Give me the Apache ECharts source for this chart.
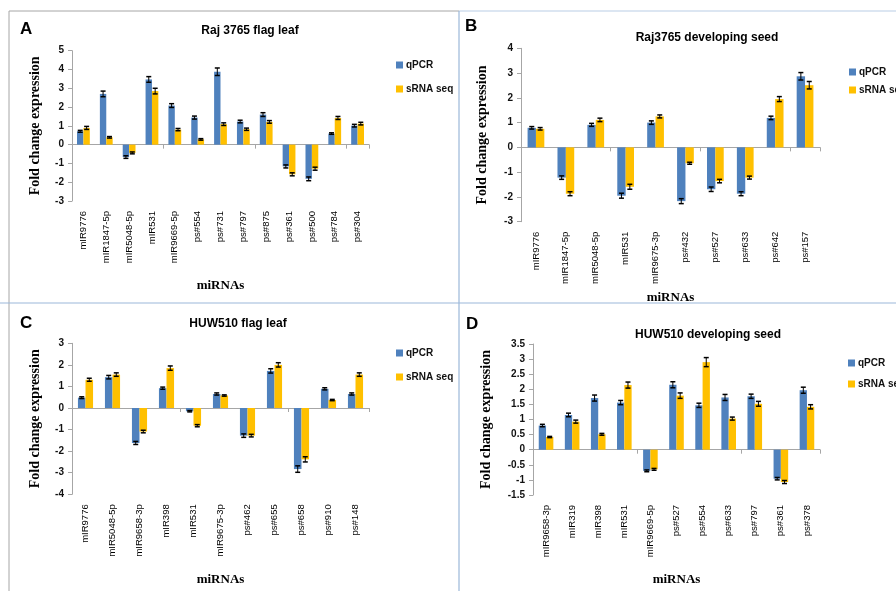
<!DOCTYPE html>
<html><head><meta charset="utf-8">
<script src="https://cdn.jsdelivr.net/npm/echarts@6/dist/echarts.min.js"></script>
<style>html,body{margin:0;padding:0;background:#fff}#c{width:896px;height:591px}</style>
</head><body><div id="c"></div>
<script>
// ---------- DATA ----------
var catsA = ['mIR9776','mIR1847-5p','mIR5048-5p','mIR531','mIR9669-5p','ps#554','ps#731','ps#797','ps#875','ps#361','ps#500','ps#784','ps#304'];
var qpcrA = [0.71,2.70,-0.66,3.47,2.08,1.44,3.88,1.23,1.60,-1.16,-1.82,0.59,1.01];
var srnaA = [0.89,0.39,-0.44,2.85,0.80,0.28,1.09,0.82,1.21,-1.58,-1.28,1.42,1.12];
var qErrA = [0.05,0.15,0.07,0.15,0.10,0.08,0.20,0.07,0.10,0.08,0.10,0.04,0.07];
var sErrA = [0.08,0.04,0.05,0.15,0.06,0.04,0.07,0.06,0.07,0.08,0.08,0.08,0.07];

var catsB = ['mIR9776','mIR1847-5p','mIR5048-5p','mIR531','mIR9675-3p','ps#432','ps#527','ps#633','ps#642','ps#157'];
var qpcrB = [0.79,-1.22,0.91,-1.95,1.00,-2.17,-1.69,-1.87,1.19,2.87];
var srnaB = [0.75,-1.87,1.11,-1.59,1.25,-0.64,-1.36,-1.22,1.95,2.51];
var qErrB = [0.05,0.07,0.06,0.10,0.07,0.10,0.09,0.08,0.07,0.15];
var sErrB = [0.05,0.08,0.07,0.10,0.06,0.04,0.07,0.06,0.10,0.15];

var catsC = ['mIR9776','mIR5048-5p','mIR9658-3p','mIR398','mIR531','mIR9675-3p','ps#462','ps#655','ps#658','ps#910','ps#148'];
var qpcrC = [0.48,1.43,-1.62,0.92,-0.15,0.65,-1.28,1.72,-2.83,0.89,0.65];
var srnaC = [1.31,1.55,-1.09,1.85,-0.82,0.58,-1.28,2.00,-2.38,0.37,1.55];
var qErrC = [0.04,0.08,0.07,0.05,0.03,0.05,0.08,0.10,0.15,0.05,0.05];
var sErrC = [0.07,0.08,0.06,0.10,0.05,0.03,0.06,0.10,0.12,0.03,0.08];

var catsD = ['mIR9658-3p','mIR319','mIR398','mIR531','mIR9669-5p','ps#527','ps#554','ps#633','ps#797','ps#361','ps#378'];
var qpcrD = [0.80,1.15,1.71,1.56,-0.70,2.15,1.47,1.73,1.77,-0.96,1.97];
var srnaD = [0.42,0.93,0.51,2.14,-0.65,1.79,2.90,1.03,1.52,-1.07,1.42];
var qErrD = [0.04,0.06,0.10,0.07,0.03,0.10,0.07,0.10,0.07,0.04,0.10];
var sErrD = [0.02,0.05,0.03,0.10,0.03,0.09,0.15,0.05,0.08,0.05,0.07];

var titles = ['Raj 3765 flag leaf','Raj3765 developing seed','HUW510 flag leaf','HUW510 developing seed'];
var letters = ['A','B','C','D'];
var yMins = [-3,-3,-4,-1.5], yMaxs = [5,4,3,3.5], yIntervals = [1,1,1,0.5];
var seriesNames = ['qPCR','sRNA seq'];

// ---------- LAYOUT ----------
var panels = [
  {cats:catsA,q:qpcrA,s:srnaA,qe:qErrA,se:sErrA, grid:{left:72,top:50.7,width:297,height:150.3}, yGap:30, xGap:78, title:[245,20], letter:[20,21], legend:[391,54,12]},
  {cats:catsB,q:qpcrB,s:srnaB,qe:qErrB,se:sErrB, grid:{left:521,top:48.3,width:299,height:173.4}, yGap:32, xGap:69, title:[702,27], letter:[465,18], legend:[844,61,6]},
  {cats:catsC,q:qpcrC,s:srnaC,qe:qErrC,se:sErrC, grid:{left:72,top:343.3,width:297,height:151}, yGap:30, xGap:79, title:[233,313], letter:[20,315], legend:[391,342,12]},
  {cats:catsD,q:qpcrD,s:srnaD,qe:qErrD,se:sErrD, grid:{left:533,top:344,width:287,height:151}, yGap:40, xGap:78, title:[703,324], letter:[466,316], legend:[843,352,9]}
];
var BAR = 0.28;
var colors = ['#4F81BD','#FFC000'];

function errRender(sign){
  return function(params, api){
    var i = api.value(0), v = api.value(1), e = api.value(2);
    var c = api.coord([i, v]);
    var band = api.size([1,0])[0];
    var x = c[0] + sign*band*BAR/2;
    var y1 = api.coord([i, v+e])[1], y2 = api.coord([i, v-e])[1];
    var cap = 2.5;
    return {type:'group', children:[
      {type:'line', shape:{x1:x,y1:y1,x2:x,y2:y2}, style:{stroke:'#000',lineWidth:1}},
      {type:'line', shape:{x1:x-cap,y1:y1,x2:x+cap,y2:y1}, style:{stroke:'#000',lineWidth:1.5}},
      {type:'line', shape:{x1:x-cap,y1:y2,x2:x+cap,y2:y2}, style:{stroke:'#000',lineWidth:1.5}}
    ]};
  };
}

var option = {animation:false, backgroundColor:'#fff', grid:[], xAxis:[], yAxis:[], series:[], title:[], legend:[], graphic:[]};

panels.forEach(function(p, k){
  option.grid.push(p.grid);
  option.xAxis.push({
    type:'category', gridIndex:k, data:p.cats, position:'bottom',
    axisLine:{show:false, onZero:false}, axisTick:{show:false},
    axisLabel:{rotate:90, margin:10, fontSize:9.5, color:'#000', fontFamily:'Liberation Sans'},
    name:'miRNAs', nameLocation:'middle', nameGap:p.xGap,
    nameTextStyle:{fontFamily:'Liberation Serif', fontWeight:'bold', fontSize:13, color:'#000'}
  });
  option.xAxis.push({
    type:'category', gridIndex:k, data:p.cats, position:'bottom',
    axisLine:{show:true, onZero:true, lineStyle:{color:'#A6A6A6', width:1}},
    axisTick:{show:true, length:4, lineStyle:{color:'#A6A6A6'}},
    axisLabel:{show:false}
  });
  option.yAxis.push({
    type:'value', gridIndex:k, min:yMins[k], max:yMaxs[k], interval:yIntervals[k],
    axisLine:{show:true, lineStyle:{color:'#A6A6A6'}},
    axisTick:{show:true, length:4, lineStyle:{color:'#A6A6A6'}},
    splitLine:{show:false},
    axisLabel:{fontSize:10, fontWeight:'bold', color:'#111', fontFamily:'Liberation Sans', margin:8},
    name:'Fold change expression', nameLocation:'middle', nameGap:p.yGap,
    nameTextStyle:{fontFamily:'Liberation Serif', fontWeight:'bold', fontSize:14, color:'#000'}
  });
  var vals = [p.q, p.s], errs = [p.qe, p.se];
  for (var j=0;j<2;j++){
    option.series.push({
      type:'bar', name:seriesNames[j], xAxisIndex:2*k, yAxisIndex:k,
      data:vals[j], barWidth:(BAR*100)+'%', barGap:'0%',
      itemStyle:{color:colors[j]}
    });
  }
  for (var j2=0;j2<2;j2++){
    option.series.push({
      type:'custom', name:seriesNames[j2]+' error', xAxisIndex:2*k, yAxisIndex:k, z:5,
      renderItem:errRender(j2===0?-1:1),
      encode:{x:0,y:1},
      data:vals[j2].map(function(v,i){return [i, v, errs[j2][i]];})
    });
  }
  option.title.push({text:titles[k], left:p.title[0], top:p.title[1], textAlign:'center',
    textStyle:{fontFamily:'Liberation Sans', fontWeight:'bold', fontSize:12, color:'#000'}});
  option.legend.push({data:seriesNames, orient:'vertical', left:p.legend[0], top:p.legend[1],
    itemGap:p.legend[2], itemWidth:7, itemHeight:7, icon:'rect', selectedMode:false,
    textStyle:{fontFamily:'Liberation Sans', fontWeight:'bold', fontSize:10, color:'#111', lineHeight:12, padding:[0,0,0,-2]}});
  option.graphic.push({type:'text', left:p.letter[0], top:p.letter[1],
    style:{text:letters[k], font:'bold 17px "Liberation Sans"', fill:'#000'}});
});

// panel frames
option.graphic.push({type:'line', shape:{x1:9,y1:11,x2:459,y2:11}, style:{stroke:'#A6A6A6',lineWidth:1}});
option.graphic.push({type:'line', shape:{x1:459,y1:11,x2:896,y2:11}, style:{stroke:'#B9CDE5',lineWidth:1.2}});
option.graphic.push({type:'line', shape:{x1:9,y1:11,x2:9,y2:591}, style:{stroke:'#A6A6A6',lineWidth:1}});
option.graphic.push({type:'line', shape:{x1:459,y1:11,x2:459,y2:591}, style:{stroke:'#9BB7D9',lineWidth:1.2}});
option.graphic.push({type:'line', shape:{x1:0,y1:303,x2:896,y2:303}, style:{stroke:'#9BB7D9',lineWidth:1.2}});

var chart = echarts.init(document.getElementById('c'), null, {renderer:'canvas'});
chart.setOption(option);
</script></body></html>
